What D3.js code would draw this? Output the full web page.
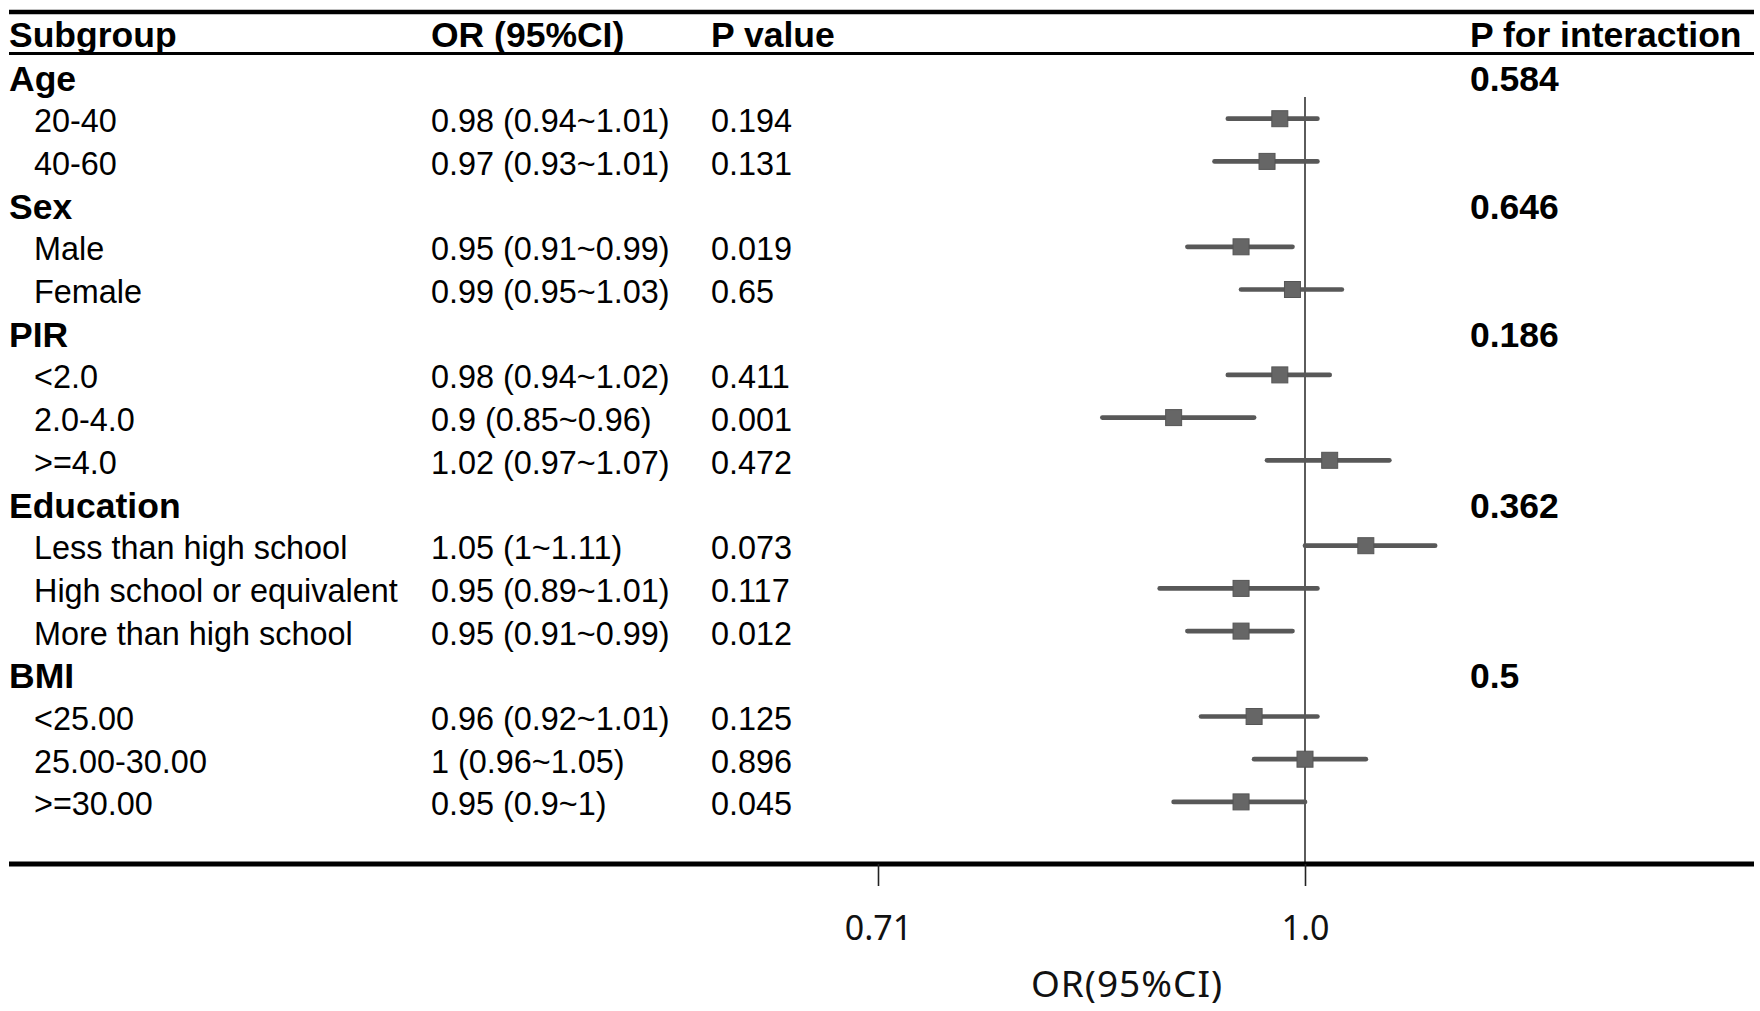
<!DOCTYPE html>
<html>
<head>
<meta charset="utf-8">
<script src="https://cdn.jsdelivr.net/npm/d3@7"></script>
<style>
  html, body { margin: 0; padding: 0; background: #fff; }
  svg { display: block; }
  .tbl { font-family: "Liberation Sans", Arial, sans-serif; fill: #000; }
  .axis text { font-family: "Noto Sans", "Open Sans", sans-serif; }
</style>
</head>
<body>
<script>
// ---------- data ----------
const groups = ["Age", "Sex", "PIR", "Education", "BMI"];
const pInteraction = ["0.584", "0.646", "0.186", "0.362", "0.5"];

const subgroupNames = ["20-40", "40-60", "Male", "Female", "<2.0", "2.0-4.0", ">=4.0",
  "Less than high school", "High school or equivalent", "More than high school",
  "<25.00", "25.00-30.00", ">=30.00"];
const subgroupOf = ["Age", "Age", "Sex", "Sex", "PIR", "PIR", "PIR",
  "Education", "Education", "Education", "BMI", "BMI", "BMI"];
const orValues = [0.98, 0.97, 0.95, 0.99, 0.98, 0.9, 1.02, 1.05, 0.95, 0.95, 0.96, 1, 0.95];
const lowerCI  = [0.94, 0.93, 0.91, 0.95, 0.94, 0.85, 0.97, 1.00, 0.89, 0.91, 0.92, 0.96, 0.90];
const upperCI  = [1.01, 1.01, 0.99, 1.03, 1.02, 0.96, 1.07, 1.11, 1.01, 0.99, 1.01, 1.05, 1.00];
const orLabels = ["0.98 (0.94~1.01)", "0.97 (0.93~1.01)", "0.95 (0.91~0.99)", "0.99 (0.95~1.03)",
  "0.98 (0.94~1.02)", "0.9 (0.85~0.96)", "1.02 (0.97~1.07)", "1.05 (1~1.11)",
  "0.95 (0.89~1.01)", "0.95 (0.91~0.99)", "0.96 (0.92~1.01)", "1 (0.96~1.05)", "0.95 (0.9~1)"];
const pValues = ["0.194", "0.131", "0.019", "0.65", "0.411", "0.001", "0.472",
  "0.073", "0.117", "0.012", "0.125", "0.896", "0.045"];

const headers = ["Subgroup", "OR (95%CI)", "P value", "P for interaction"];
const xTickValues = [0.71, 1.0];
const xTickLabels = ["0.71", "1.0"];
const xAxisTitle = "OR(95%CI)";
const refValue = 1.0;

// ---------- build rows ----------
const rows = [];
groups.forEach((g, gi) => {
  rows.push({ type: "group", label: g, pint: pInteraction[gi] });
  subgroupNames.forEach((s, i) => {
    if (subgroupOf[i] === g) {
      rows.push({ type: "sub", label: s, or: orValues[i], lo: lowerCI[i], hi: upperCI[i],
                  orLabel: orLabels[i], p: pValues[i] });
    }
  });
});
rows.forEach((d, i) => d.idx = i);

// ---------- layout ----------
const W = 1760, H = 1011;
const svg = d3.select("body").append("svg").attr("width", W).attr("height", H);

const colX = { group: 9, sub: 34, or: 431, p: 711, pint: 1470 };
const lineLeft = 9, lineRight = 1754;

const y = d3.scaleLinear().domain([0, rows.length - 1]).range([78, 78 + 42.7 * (rows.length - 1)]);
const x = d3.scaleLog().domain([0.71, 1.0]).range([878, 1305]);

const bodySize = 32.4, boldSize = 35.5;

// top line and header underline
svg.append("line").attr("x1", lineLeft).attr("x2", lineRight).attr("y1", 12).attr("y2", 12)
  .attr("stroke", "#000").attr("stroke-width", 4.5);
svg.append("line").attr("x1", lineLeft).attr("x2", lineRight).attr("y1", 53.5).attr("y2", 53.5)
  .attr("stroke", "#000").attr("stroke-width", 3);

// headers
const headerX = [colX.group, colX.or, colX.p, colX.pint];
svg.selectAll("text.hdr").data(headers).join("text")
  .attr("class", "tbl hdr")
  .attr("x", (d, i) => headerX[i]).attr("y", 46.5)
  .attr("font-size", boldSize).attr("font-weight", "bold")
  .text(d => d);

// reference line at OR = 1
const bottomY = 864;
svg.append("line").attr("x1", x(refValue)).attr("x2", x(refValue))
  .attr("y1", 97).attr("y2", bottomY)
  .attr("stroke", "#333").attr("stroke-width", 1.6);

// group rows
const grp = rows.filter(d => d.type === "group");
svg.selectAll("text.grp").data(grp).join("text")
  .attr("class", "tbl grp")
  .attr("x", colX.group).attr("y", d => y(d.idx) + 12.5)
  .attr("font-size", boldSize).attr("font-weight", "bold")
  .text(d => d.label);
svg.selectAll("text.pint").data(grp).join("text")
  .attr("class", "tbl pint")
  .attr("x", colX.pint).attr("y", d => y(d.idx) + 12.5)
  .attr("font-size", boldSize).attr("font-weight", "bold")
  .text(d => d.pint);

// subgroup rows
const subs = rows.filter(d => d.type === "sub");
svg.selectAll("text.sub").data(subs).join("text")
  .attr("class", "tbl sub")
  .attr("x", colX.sub).attr("y", d => y(d.idx) + 11.5)
  .attr("font-size", bodySize).text(d => d.label);
svg.selectAll("text.orl").data(subs).join("text")
  .attr("class", "tbl orl")
  .attr("x", colX.or).attr("y", d => y(d.idx) + 11.5)
  .attr("font-size", bodySize).text(d => d.orLabel);
svg.selectAll("text.pv").data(subs).join("text")
  .attr("class", "tbl pv")
  .attr("x", colX.p).attr("y", d => y(d.idx) + 11.5)
  .attr("font-size", bodySize).text(d => d.p);

// CI lines
svg.selectAll("line.ci").data(subs).join("line")
  .attr("class", "ci")
  .attr("x1", d => x(d.lo)).attr("x2", d => x(d.hi))
  .attr("y1", d => y(d.idx) - 2).attr("y2", d => y(d.idx) - 2)
  .attr("stroke", "#585858").attr("stroke-width", 4.7).attr("stroke-linecap", "round");

// point estimates
const ms = 16;
svg.selectAll("rect.pt").data(subs).join("rect")
  .attr("class", "pt")
  .attr("x", d => x(d.or) - ms / 2).attr("y", d => y(d.idx) - 2 - ms / 2)
  .attr("width", ms).attr("height", ms)
  .attr("fill", "#666").attr("stroke", "#555").attr("stroke-width", 1);

// bottom line
svg.append("line").attr("x1", lineLeft).attr("x2", lineRight).attr("y1", bottomY).attr("y2", bottomY)
  .attr("stroke", "#000").attr("stroke-width", 5);

// x axis
const axis = d3.axisBottom(x).tickValues(xTickValues)
  .tickFormat((d, i) => xTickLabels[i]).tickSize(22).tickPadding(30);
const axG = svg.append("g").attr("class", "axis").attr("transform", `translate(0,${bottomY})`).call(axis);
axG.select(".domain").remove();
axG.selectAll(".tick line").attr("stroke", "#222").attr("stroke-width", 1.6);
axG.selectAll(".tick text").attr("font-size", 34).attr("fill", "#111");

svg.append("text")
  .attr("x", 1127).attr("y", 997)
  .attr("text-anchor", "middle")
  .attr("font-family", "'Noto Sans', 'Open Sans', sans-serif")
  .attr("font-size", 37).attr("letter-spacing", 1).attr("fill", "#111")
  .text(xAxisTitle);
</script>
</body>
</html>
